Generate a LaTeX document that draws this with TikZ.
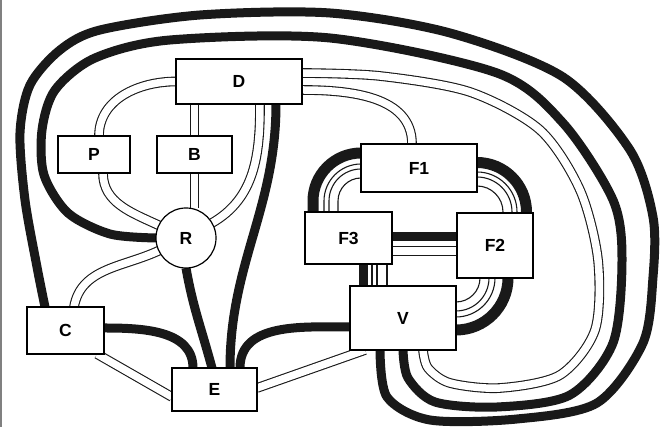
\documentclass[tikz,border=0pt]{standalone}
\usepackage{fontspec}
\setmainfont{Liberation Sans}
\usetikzlibrary{backgrounds}
\begin{document}
\begin{tikzpicture}[x=1pt,y=1pt,
    unit/.style={draw, line width=1.2pt, fill=white, inner sep=0pt, outer sep=0pt,
      font=\fontsize{17.5}{20}\selectfont\bfseries},
    box/.style={unit, rectangle},
    blk/.style={draw=black!90, line width=9pt},
    wht/.style={draw=black!90, line width=1.1pt, double=white, double distance=7.5pt},
    wire/.style={draw=black!90, line width=1.1pt}]
    \useasboundingbox (0,0) rectangle (661,427);
    \draw[black!50, line width=1.5pt] (0.75,0) -- (0.75,427);
    % units
    \node[box, minimum width=126pt, minimum height=45pt] (D) at (239,345.5) {D};
    \node[box, minimum width=72pt, minimum height=37pt] (P) at (94,272.5) {P};
    \node[box, minimum width=75pt, minimum height=37pt] (B) at (194.5,272.5) {B};
    \node[unit, circle, minimum size=60pt] (R) at (186,189) {R};
    \node[box, minimum width=116pt, minimum height=48pt] (F1) at (419,259) {F1};
    \node[box, minimum width=87pt, minimum height=52pt] (F3) at (348.5,189) {F3};
    \node[box, minimum width=76pt, minimum height=65pt] (F2) at (495,181.5) {F2};
    \node[box, minimum width=106pt, minimum height=64pt] (V) at (403,109) {V};
    \node[box, minimum width=77pt, minimum height=47pt] (C) at (65.5,96.5) {C};
    \node[box, minimum width=85pt, minimum height=43pt] (E) at (214.5,37.5) {E};
    \begin{pgfonlayer}{background}
        % black cables
        \draw[blk] plot[smooth] coordinates {([xshift=-20.5pt]C.north) (37,160) (25,227) (20,294)
            (30,342) (60,377) (100,397) (200,412) (330,414) (450,394) (563,350) (630,277)
            (653,210) (653,150) (643,84) (597,24) (517,8) (430,7) (387,30) ([xshift=-23pt]V.south)};
        \draw[blk] plot[smooth] coordinates {(R.west) (110,193) (68,214) (44,252) (42,297)
            (55,337) (95,369) (170,387) (330,389) (497,354) (563,304) (613,227) (622,167)
            (613,84) (570,32) (497,20) (435,25) (408,49) (V.south)};
        \draw[blk] ([xshift=37pt]D.south) to[out=-90, in=90] ([xshift=15.5pt]E.north);
        \draw[blk] (R.south) to[out=-80, in=105] ([xshift=-2.5pt]E.north);
        \draw[blk] ([yshift=2.5pt]C.east) to[out=0, in=90] ([xshift=-21.5pt]E.north);
        \draw[blk] ([xshift=25.5pt]E.north) to[out=90, in=180] ([yshift=-9pt]V.west);
        \draw[blk] ([yshift=1.5pt]F3.east) -- ([yshift=1.5pt]F3.east -| F2.west);
        \draw[blk] ([xshift=14.5pt]F3.south) -- ([xshift=14.5pt]F3.south |- V.north);
        \draw[blk, line width=11pt] ([xshift=4pt, yshift=15pt]F1.west) -- ++(-4,0)
            arc[start angle=90, end angle=180, radius=48] -- ++(0,-14);
        \draw[blk, line width=11pt] ([xshift=-4pt, yshift=5.5pt]F1.east) -- ++(4,0)
            arc[start angle=90, end angle=0, radius=49.5] -- ++(0,-7);
        \draw[blk, line width=11pt] ([xshift=13pt, yshift=4pt]F2.south) -- ++(0,-4)
            arc[start angle=0, end angle=-90, radius=52] -- ++(-6,0);
        % white cables
        \draw[wht] (D.west) to[out=180, in=90] ([xshift=5pt]P.north);
        \draw[wht] ([xshift=9pt]P.south) to[out=-90, in=155] (R.155);
        \draw[wht] (B.north |- D.south) -- (B.north);
        \draw[wht] (B.south) -- (B.south |- R.north);
        \draw[wht] ([xshift=21pt]D.south) to[out=-90, in=30] (R.30);
        \draw[wht] ([xshift=8.5pt]C.north) to[out=80, in=205] (R.205);
        \draw[wht] ([xshift=31.5pt]C.south) -- ([yshift=-7.5pt]E.west);
        \draw[wht] ([yshift=1.5pt]E.east) -- ([xshift=15pt]V.south west);
        \draw[wht] ([yshift=-8.5pt]D.east) to[out=0, in=90] ([xshift=-7pt]F1.north);
        \draw[wht] plot[smooth] coordinates {([yshift=8.5pt]D.east) (380,351) (470,335)
            (540,297) (580,237) (598,167) (595,97) (560,52) (500,39) (450,44) (428,59)
            ([xshift=20pt]V.south)};
        \draw[wht] ([yshift=-13pt]F3.east) -- ([yshift=-13pt]F3.east -| F2.west);
        % thin wires round the F units
        \foreach \r in {37,32,23}
            \draw[wire] ([xshift=4pt, yshift=\r pt-33pt]F1.west) -- ++(-4,0)
                arc[start angle=90, end angle=180, radius=\r] -- ++(0,-14);
        \foreach \r in {40,35,26}
            \draw[wire] ([xshift=-4pt, yshift=\r pt-44pt]F1.east) -- ++(4,0)
                arc[start angle=90, end angle=0, radius=\r] -- ++(0,-7);
        \foreach \r in {39,33,24}
            \draw[wire] ([xshift=\r pt-39pt, yshift=4pt]F2.south) -- ++(0,-4)
                arc[start angle=0, end angle=-90, radius=\r] -- ++(-6,0);
        \foreach \dx in {23.5,28.5,38.5}
            \draw[wire] ([xshift=\dx pt]F3.south) -- ([xshift=\dx pt]F3.south |- V.north);
    \end{pgfonlayer}
\end{tikzpicture}
\end{document}
